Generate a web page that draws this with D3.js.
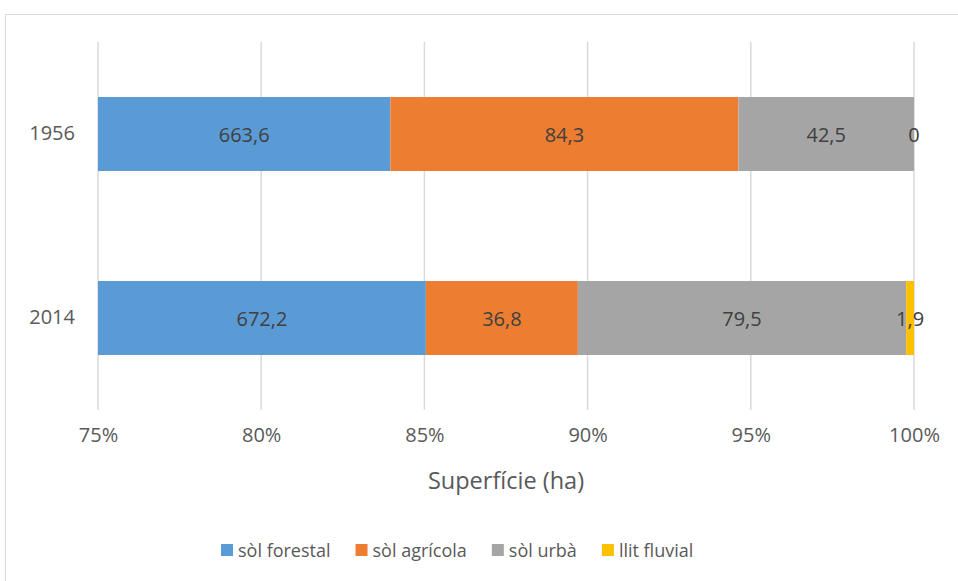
<!DOCTYPE html>
<html>
<head>
<meta charset="utf-8">
<script src="https://cdn.jsdelivr.net/npm/d3@7/dist/d3.min.js"></script>
<style>
  html, body { margin: 0; padding: 0; background: #fff; }
  svg { display: block; font-family: "Open Sans", sans-serif; }
</style>
</head>
<body>
<svg id="chart" width="958" height="581"></svg>
<script>
// Land use (ha) by year, shown as a 100% stacked bar
const years = ["1956", "2014"];
const seriesNames = ["sòl forestal", "sòl agrícola", "sòl urbà", "llit fluvial"];
const seriesColors = ["#5b9bd5", "#ed7d31", "#a5a5a5", "#ffc000"];
const forestal = [663.6, 672.2];
const agricola = [84.3, 36.8];
const urba = [42.5, 79.5];
const fluvial = [0, 1.9];
const tickValues = [0.75, 0.80, 0.85, 0.90, 0.95, 1.00];
const axisTitle = "Superfície (ha)";

const seriesValues = [forestal, agricola, urba, fluvial];
const rows = years.map((y, i) => {
  const r = { year: y };
  seriesNames.forEach((n, k) => { r[n] = seriesValues[k][i]; });
  return r;
});

const stack = d3.stack().keys(seriesNames).offset(d3.stackOffsetExpand);
const layers = stack(rows);

// Catalan number style: decimal comma
const ca = d3.formatLocale({ decimal: ",", thousands: ".", grouping: [3], currency: ["", " €"] });
const fmtValue = v => v === 0 ? "0" : ca.format(".1f")(v);

const svg = d3.select("#chart");
const W = 958, H = 581;

// chart frame
svg.append("rect")
  .attr("x", 5.5).attr("y", 14.5)
  .attr("width", W + 10).attr("height", H + 10)
  .attr("fill", "none").attr("stroke", "#d9d9d9").attr("stroke-width", 1);

const x = d3.scaleLinear().domain([0.75, 1]).range([98, 914]).clamp(true);
const y = d3.scaleBand().domain(years).range([42, 410])
  .paddingInner(0.598).paddingOuter(0.299);

// vertical gridlines
svg.append("g").selectAll("line").data(tickValues).join("line")
  .attr("x1", d => x(d)).attr("x2", d => x(d))
  .attr("y1", 42).attr("y2", 410)
  .attr("stroke", "#d9d9d9").attr("stroke-width", 1.5);

// bars
const gLayers = svg.append("g").selectAll("g").data(layers).join("g")
  .attr("fill", (d, i) => seriesColors[i]);
gLayers.selectAll("rect").data(d => d).join("rect")
  .attr("x", d => x(d[0]))
  .attr("width", d => Math.max(0, x(d[1]) - x(d[0])))
  .attr("y", d => y(d.data.year))
  .attr("height", y.bandwidth());

// value labels, centred on the visible part of each segment
layers.forEach(layer => {
  svg.append("g").selectAll("text").data(layer).join("text")
    .attr("x", d => (x(d[0]) + x(d[1])) / 2)
    .attr("y", d => y(d.data.year) + y.bandwidth() / 2)
    .attr("text-anchor", "middle")
    .attr("dominant-baseline", "central")
    .attr("font-size", 20)
    .attr("fill", "#404040")
    .text(d => fmtValue(d.data[layer.key]));
});

// category labels
const yAxis = d3.axisLeft(y).tickSize(0).tickPadding(0);
const gy = svg.append("g").attr("transform", "translate(75,0)").call(yAxis);
gy.select(".domain").remove();
gy.selectAll("text").attr("font-size", 20).attr("fill", "#595959")
  .attr("font-family", "Open Sans, sans-serif");

// x axis tick labels
const xAxis = d3.axisBottom(x).tickValues(tickValues).tickSize(0).tickPadding(0)
  .tickFormat(d3.format(".0%"));
const gx = svg.append("g").attr("transform", "translate(0,428)").call(xAxis);
gx.select(".domain").remove();
gx.selectAll("text").attr("font-size", 20).attr("fill", "#595959")
  .attr("font-family", "Open Sans, sans-serif");

// axis title
svg.append("text")
  .attr("x", 506).attr("y", 480)
  .attr("text-anchor", "middle")
  .attr("dominant-baseline", "central")
  .attr("font-size", 23.5).attr("fill", "#595959")
  .text(axisTitle);

// legend
const legend = svg.append("g");
let lx = 221;
seriesNames.forEach((n, i) => {
  legend.append("rect").attr("x", lx).attr("y", 544)
    .attr("width", 12).attr("height", 12).attr("fill", seriesColors[i]);
  const t = legend.append("text").attr("x", lx + 17).attr("y", 550)
    .attr("dominant-baseline", "central")
    .attr("font-size", 18).attr("fill", "#595959").text(n);
  lx += 17 + t.node().getComputedTextLength() + 25;
});
</script>
</body>
</html>
